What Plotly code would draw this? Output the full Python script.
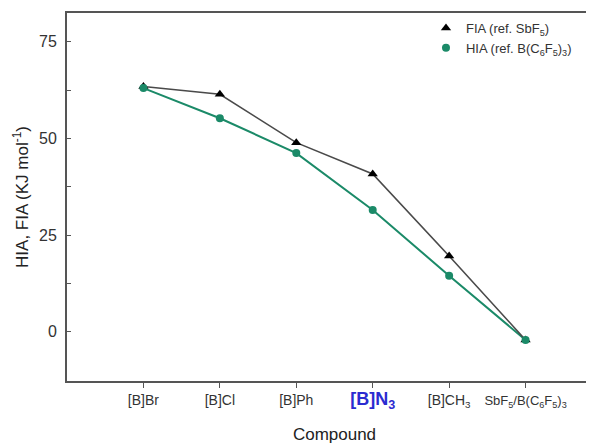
import plotly.graph_objects as go

categories = ["[B]Br", "[B]Cl", "[B]Ph", "[B]N3", "[B]CH3", "SbF5/B(C6F5)3"]
tick_labels = [
    "[B]Br",
    "[B]Cl",
    "[B]Ph",
    "<span style='color:#2b2bd0;font-size:18px'><b>[B]N<sub>3</sub></b></span>",
    "[B]CH<sub>3</sub>",
    "<span style='font-size:13px'>SbF<sub>5</sub>/B(C<sub>6</sub>F<sub>5</sub>)<sub>3</sub></span>",
]
fia = [63.4, 61.4, 48.9, 40.8, 19.6, -2.1]
hia = [63.0, 55.2, 46.2, 31.5, 14.5, -2.1]

FIA_COLOR = "#000000"
FIA_LINE = "#4a4a4a"
HIA_COLOR = "#1b8a68"

fig = go.Figure()
fig.add_trace(go.Scatter(x=categories, y=hia, mode="lines", line=dict(color=HIA_COLOR, width=2), showlegend=False, hoverinfo="skip"))
fig.add_trace(go.Scatter(x=categories, y=fia, mode="lines", line=dict(color=FIA_LINE, width=1.6), showlegend=False, hoverinfo="skip"))
fig.add_trace(go.Scatter(x=categories, y=fia, mode="markers", name="FIA (ref. SbF<sub>5</sub>)",
                         marker=dict(symbol="triangle-up", size=9, color=FIA_COLOR)))
fig.add_trace(go.Scatter(x=categories, y=hia, mode="markers", name="HIA (ref. B(C<sub>6</sub>F<sub>5</sub>)<sub>3</sub>)",
                         marker=dict(symbol="circle", size=8, color=HIA_COLOR)))

fig.update_layout(
    width=594, height=446,
    margin=dict(l=59, r=0, t=5, b=73),
    paper_bgcolor="white", plot_bgcolor="white",
    font=dict(family="Liberation Sans, Arial, sans-serif", size=14, color="#333333"),
    legend=dict(x=0.671, y=1.0, xanchor="left", yanchor="top", bgcolor="rgba(0,0,0,0)",
                font=dict(size=13, color="#333333"), itemwidth=30, tracegroupgap=0),
    xaxis=dict(
        type="category", categoryorder="array", categoryarray=categories,
        tickmode="array", tickvals=categories, ticktext=tick_labels,
        range=[-1, 6], showgrid=False, zeroline=False,
        showline=True, linecolor="#555555", linewidth=2, mirror=True,
        ticks="outside", ticklen=5, tickcolor="#555555", tickwidth=1,
        tickfont=dict(size=14, color="#333333"),
        title=dict(text="Compound", font=dict(size=17, color="#222222"), standoff=18),
    ),
    yaxis=dict(
        range=[-12.7, 82.4], tickvals=[0, 25, 50, 75], showgrid=False, zeroline=False,
        showline=True, linecolor="#555555", linewidth=2, mirror=False,
        ticks="inside", ticklen=4, tickcolor="#555555",
        minor=dict(tickvals=[12.5, 37.5, 62.5], ticks="inside", ticklen=4, tickcolor="#555555"),
        tickfont=dict(size=16, color="#333333"), ticklabelstandoff=5,
        title=dict(text="HIA, FIA (KJ mol<sup>-1</sup>)", font=dict(size=17, color="#222222"), standoff=6),
    ),
)

fig.write_html("out.html")
